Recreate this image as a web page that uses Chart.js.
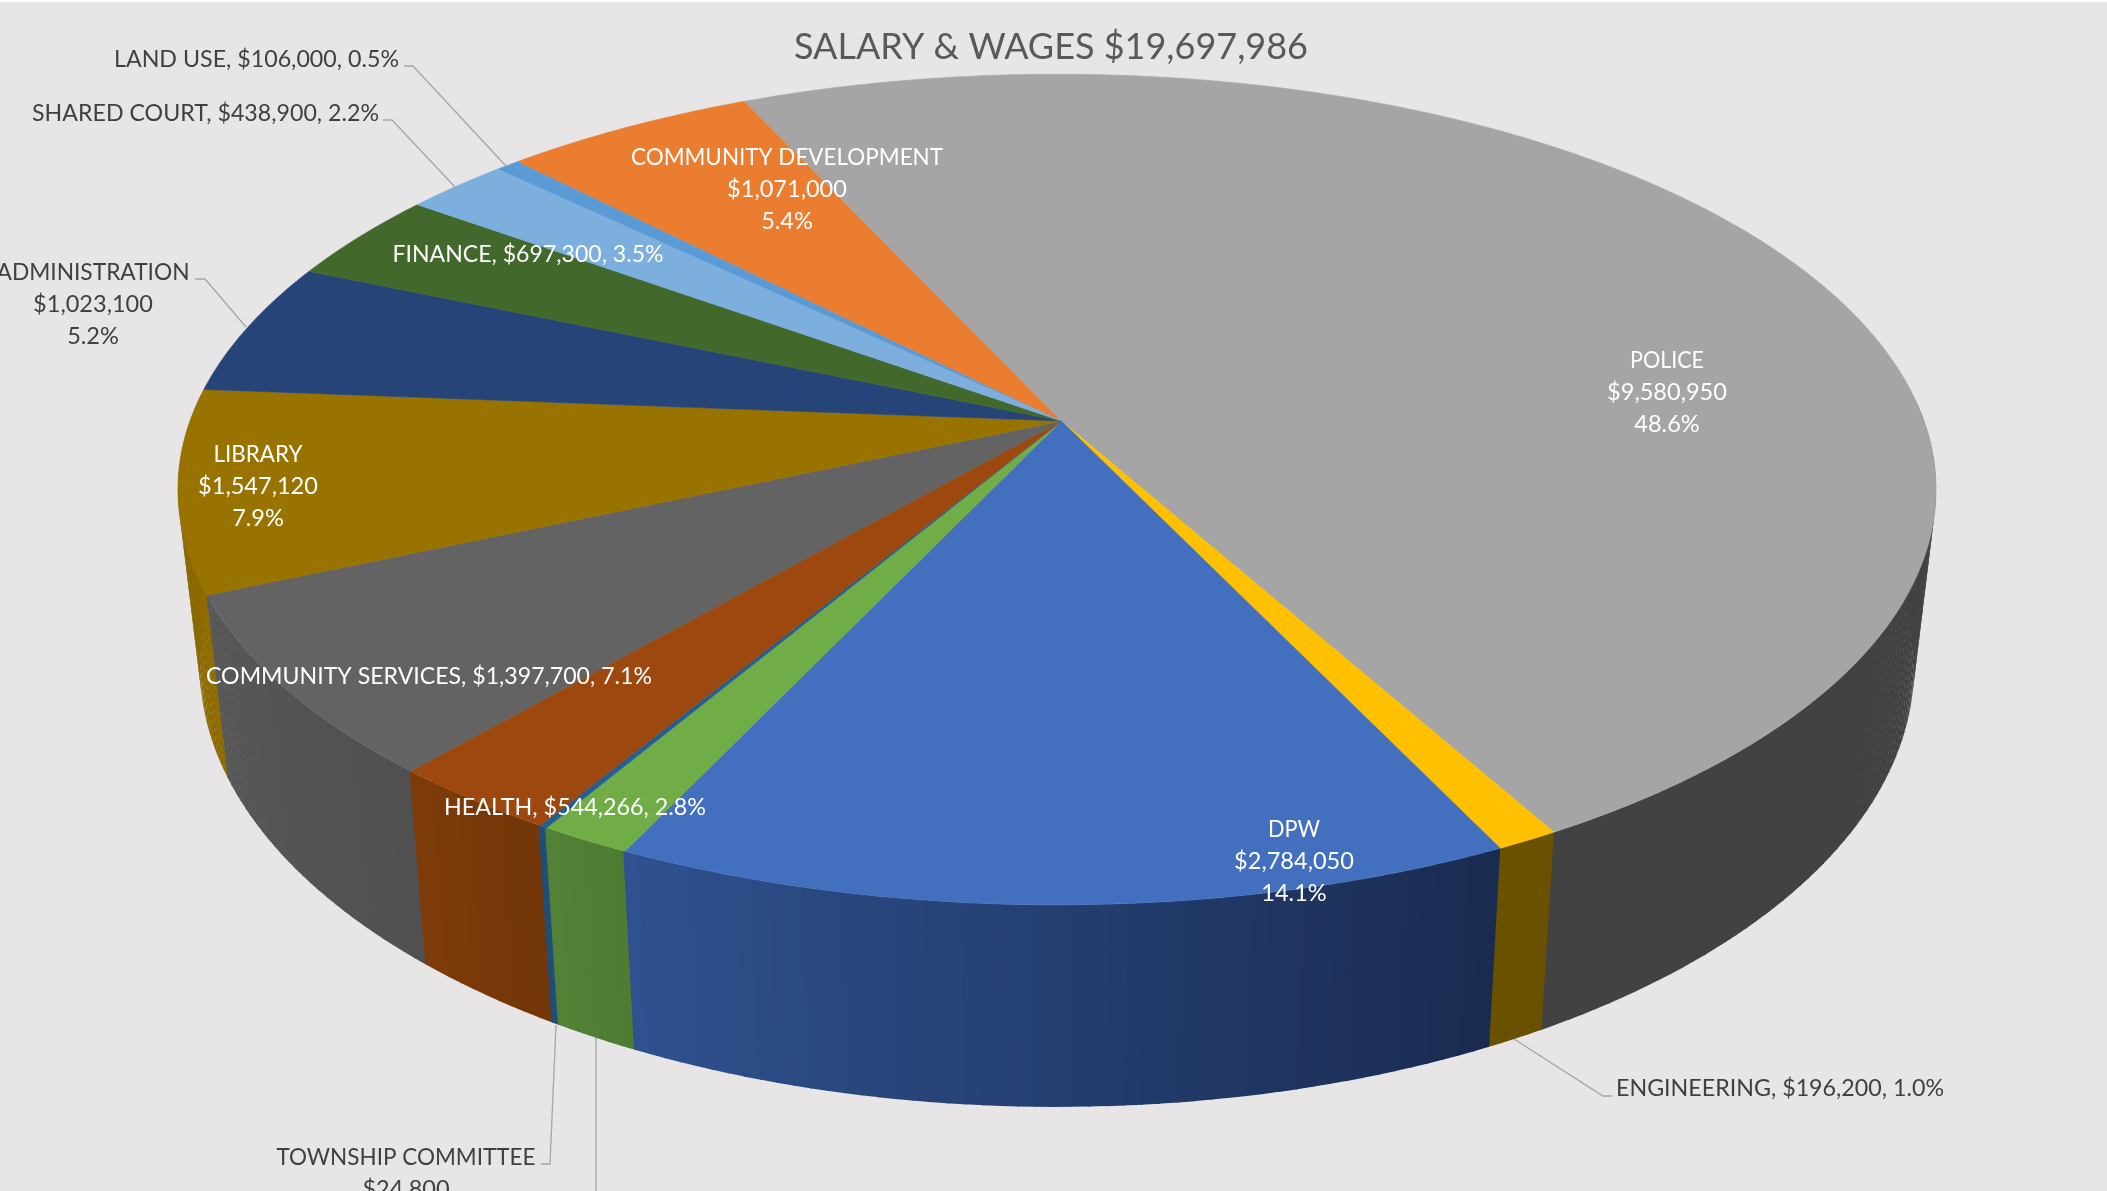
<!DOCTYPE html>
<html>
<head>
<meta charset="utf-8">
<title>Salary & Wages</title>
<script src="https://cdn.jsdelivr.net/npm/chart.js@4"></script>
<style>
  html, body { margin: 0; padding: 0; background: #e7e5e5; overflow: hidden; }
  canvas { display: block; }
</style>
</head>
<body>
<canvas id="myChart" width="2107" height="1191"></canvas>
<script>
///////Data
const titleText = 'SALARY & WAGES $19,697,986';
const categories = ['LAND USE', 'COMMUNITY DEVELOPMENT', 'POLICE', 'ENGINEERING', 'DPW', '', 'TOWNSHIP COMMITTEE', 'HEALTH', 'COMMUNITY SERVICES', 'LIBRARY', 'ADMINISTRATION', 'FINANCE', 'SHARED COURT'];
const salaries = [106000, 1071000, 9580950, 196200, 2784050, 286600, 24800, 544266, 1397700, 1547120, 1023100, 697300, 438900];

///////Colors
const topColors = ['#5b9bd5', '#eb7d30', '#a5a5a5', '#ffc000', '#4270bf', '#70ad47', '#255e91', '#9c480e', '#636363', '#997300', '#264478', '#43682b', '#7cafdd'];
const wallStart = ['#3a6a96', '#a3551f', '#424242', '#6a5100', '#1a2b50', '#4f7c33', '#1f4e79', '#733608', '#505050', '#8f6c00', '#1c3358', '#2f4a1e', '#5a80a3'];
const wallEnd = ['#3a6a96', '#a3551f', '#424242', '#6a5100', '#2f5290', '#548237', '#1f4e79', '#7f3c0a', '#585858', '#7a5c00', '#1c3358', '#2f4a1e', '#5a80a3'];

///////Layout of the labels, [text anchor x, first line y, align, color, one line or three]
const labelSpots = [
  [399, 59, 'right', '#404040', 1],
  [787, 157, 'center', '#ffffff', 3],
  [1667, 360, 'center', '#ffffff', 3],
  [1616, 1088, 'left', '#404040', 1],
  [1294, 829, 'center', '#ffffff', 3],
  null,
  [406, 1157, 'center', '#404040', 3],
  [575, 807, 'center', '#ffffff', 1],
  [429, 676, 'center', '#ffffff', 1],
  [258, 454, 'center', '#ffffff', 3],
  [93, 272, 'center', '#404040', 3],
  [528, 254, 'center', '#ffffff', 1],
  [379, 113, 'right', '#404040', 1],
];
// width of the first line of each label
const labelWidths = [285, 312, 74, 328, 52, 0, 259, 262, 446, 89, 193, 271, 347];
const leaderLines = [
  [[404, 66], [413, 66], [506, 166]],
  [[383, 120], [392, 120], [455, 187]],
  [[195, 279], [205, 279], [246, 327]],
  [[1514, 1039], [1603, 1096], [1612, 1096]],
  [[556, 1025], [550, 1164], [541, 1164]],
  [[596, 1038], [596, 1191]],
];

///////Perspective of the disc
const apexX = 1061.5;
const apexY = 421;
const rimShift = -4.5;
const spanX = 867;
const spanY = 404;
const tilt = 0.165;
const frontTop = 904;
const frontBottom = 1106;
const bottomScaleX = 0.975;
const bottomScaleY = 1.06;

const project = (angle) => {
  const u = Math.cos(angle);
  const v = Math.sin(angle);
  const w = 1 - tilt * v;
  return [apexX + rimShift + (spanX * u) / w, apexY + (spanY * v) / w];
};
const projectBottom = (angle) => {
  const p = project(angle);
  return [apexX + rimShift + bottomScaleX * (p[0] - apexX - rimShift), frontBottom + bottomScaleY * (p[1] - frontTop)];
};

const hexToRgb = (hex) => [1, 3, 5].map((i) => parseInt(hex.substr(i, 2), 16));
const mixColor = (a, b, t) => {
  const ca = hexToRgb(a);
  const cb = hexToRgb(b);
  return `rgb(${ca.map((c, i) => Math.round(c + (cb[i] - c) * t)).join(',')})`;
};

const total = salaries.reduce((a, b) => a + b, 0);
const labelLines = (i) => {
  const money = '$' + salaries[i].toLocaleString('en-US');
  const pct = ((salaries[i] / total) * 100).toFixed(1) + '%';
  if (labelSpots[i][4] === 1) return [`${categories[i]}, ${money}, ${pct}`];
  return [categories[i], money, pct];
};

//////Chart
const stepAngle = (0.5 * Math.PI) / 180;
const wallStep = (1 * Math.PI) / 180;

function drawWalls(ctx, arcs) {
  const quads = [];
  arcs.forEach((arc, i) => {
    const steps = Math.max(1, Math.ceil((arc.endAngle - arc.startAngle) / wallStep));
    for (let s = 0; s < steps; s++) {
      const a = arc.startAngle + ((arc.endAngle - arc.startAngle) * s) / steps;
      const b = arc.startAngle + ((arc.endAngle - arc.startAngle) * (s + 1)) / steps;
      // the back of the wall is hidden by the top anyway
      if (Math.sin(a) > -0.05 || Math.sin(b) > -0.05) {
        quads.push({ a, b, color: mixColor(wallStart[i], wallEnd[i], s / steps) });
      }
    }
  });
  // neighbours overlap a little so no seam shows
  quads.sort((p, q) => Math.sin(p.a) - Math.sin(q.a));
  quads.forEach((q) => {
    const corners = [project(q.a), project(q.b + 0.002), projectBottom(q.b + 0.002), projectBottom(q.a)];
    ctx.beginPath();
    corners.forEach((c, n) => (n ? ctx.lineTo(c[0], c[1]) : ctx.moveTo(c[0], c[1])));
    ctx.closePath();
    ctx.fillStyle = q.color;
    ctx.fill();
  });
}

function drawTop(ctx, arcs) {
  arcs.forEach((arc, i) => {
    ctx.beginPath();
    ctx.moveTo(apexX, apexY);
    for (let a = arc.startAngle; a < arc.endAngle; a += stepAngle) {
      const p = project(a);
      ctx.lineTo(p[0], p[1]);
    }
    const last = project(arc.endAngle);
    ctx.lineTo(last[0], last[1]);
    ctx.closePath();
    ctx.fillStyle = topColors[i];
    ctx.strokeStyle = topColors[i];
    ctx.lineWidth = 0.6;
    ctx.fill();
    ctx.stroke();
  });
}

function drawLabels(ctx) {
  ctx.strokeStyle = '#a6a6a6';
  ctx.lineWidth = 1.3;
  leaderLines.forEach((line) => {
    ctx.beginPath();
    line.forEach((c, n) => (n ? ctx.lineTo(c[0], c[1]) : ctx.moveTo(c[0], c[1])));
    ctx.stroke();
  });
  ctx.font = '24px Lato';
  ctx.textBaseline = 'middle';
  labelSpots.forEach((spot, i) => {
    if (!spot) return;
    ctx.textAlign = spot[2];
    ctx.fillStyle = spot[3];
    labelLines(i).forEach((text, n) => {
      const width = n === 0 ? labelWidths[i] : ctx.measureText(text).width * 0.98;
      ctx.fillText(text, spot[0], spot[1] + n * 32.2, width);
    });
  });
}

const perspectivePie = {
  id: 'perspectivePie',
  beforeDraw(chart) {
    const ctx = chart.ctx;
    ctx.save();
    ctx.fillStyle = '#ffffff';
    ctx.fillRect(0, 0, chart.width, 2);
    ctx.restore();
  },
  beforeDatasetDraw(chart) {
    // the slice angles come from the chart, they only get projected here
    const ctx = chart.ctx;
    const arcs = chart.getDatasetMeta(0).data;
    ctx.save();
    drawWalls(ctx, arcs);
    drawTop(ctx, arcs);
    drawLabels(ctx);
    ctx.restore();
    return false;
  },
};

const ctx = document.getElementById('myChart').getContext('2d');
const chart = new Chart(ctx, {
  type: 'pie',
  data: {
    labels: categories,
    datasets: [{ data: salaries, backgroundColor: topColors, borderWidth: 0 }],
  },
  options: {
    responsive: false,
    animation: false,
    rotation: -46,
    layout: { padding: { right: 5 } },
    plugins: {
      legend: { display: false },
      tooltip: { enabled: false },
      title: {
        display: true,
        fullSize: false,
        text: titleText,
        color: '#595959',
        font: { family: 'Lato', size: 36, weight: 'normal' },
        padding: { top: 26, bottom: 0 },
      },
    },
  },
  plugins: [perspectivePie],
});
</script>
</body>
</html>
